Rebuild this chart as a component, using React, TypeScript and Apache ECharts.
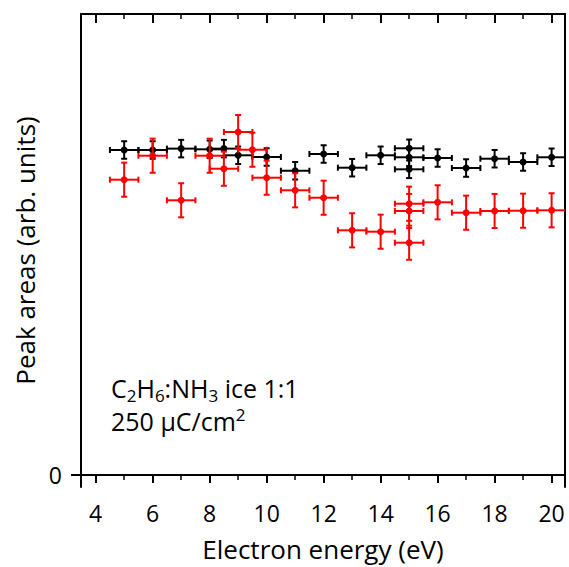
import React, { useEffect, useRef } from "react";
import * as echarts from "echarts";

const blackX = [5, 6, 7, 8, 8.5, 9, 10, 11, 12, 13, 14, 15, 15, 15, 16, 17, 18, 19, 20];
const blackY = [70.5, 70.5, 70.8, 70.65, 70.8, 69.35, 68.98, 66.0, 69.63, 66.66, 69.35, 70.87, 68.92, 66.31, 68.76, 66.59, 68.61, 67.9, 68.92];
const blackYErr = 1.9;

const redX = [5, 6, 7, 8, 8.5, 9, 9.5, 10, 11, 12, 13, 14, 15, 15, 15, 16, 17, 18, 19, 20];
const redY = [64.06, 69.26, 59.59, 69.26, 66.44, 74.4, 70.56, 64.49, 61.76, 60.15, 53.08, 52.78, 58.85, 57.27, 50.39, 59.15, 56.9, 57.27, 57.33, 57.42];
const redYErr = 3.7;

const xErr = 0.5;
const xMajorTicks = [4, 6, 8, 10, 12, 14, 16, 18, 20];
const xMinorTicks = [5, 7, 9, 11, 13, 15, 17, 19];
const yTicks = [0];

const FONT = "Open Sans";
const X_MIN = 3.485;
const X_MAX = 20.47;
const Y_MIN = -2.6;
const Y_MAX = 100;

function makeSeries(xs: number[], ys: number[], ye: number, color: string) {
  const data = xs.map((x, i) => [x, ys[i], xErr, ye]);
  return {
    type: "custom",
    clip: true,
    data,
    encode: { x: 0, y: 1 },
    renderItem: (params: any, api: any) => {
      const x = api.value(0);
      const y = api.value(1);
      const xe = api.value(2);
      const yErr = api.value(3);
      const c = api.coord([x, y]);
      const l = api.coord([x - xe, y]);
      const r = api.coord([x + xe, y]);
      const t = api.coord([x, y + yErr]);
      const b = api.coord([x, y - yErr]);
      const cap = 3;
      const st = { stroke: color, lineWidth: 2 };
      const ln = (x1: number, y1: number, x2: number, y2: number) => ({
        type: "line",
        shape: { x1, y1, x2, y2 },
        style: st,
      });
      return {
        type: "group",
        children: [
          ln(l[0], l[1], r[0], r[1]),
          ln(l[0], l[1] - cap, l[0], l[1] + cap),
          ln(r[0], r[1] - cap, r[0], r[1] + cap),
          ln(t[0], t[1], b[0], b[1]),
          ln(t[0] - cap, t[1], t[0] + cap, t[1]),
          ln(b[0] - cap, b[1], b[0] + cap, b[1]),
          { type: "circle", shape: { cx: c[0], cy: c[1], r: 3.5 }, style: { fill: color } },
        ],
      };
    },
  };
}

export default function App() {
  const ref = useRef<HTMLDivElement>(null);
  useEffect(() => {
    if (!ref.current) return;
    const chart = echarts.init(ref.current, null, { renderer: "svg" });
    const axisLine = { show: true, lineStyle: { color: "#000", width: 2 } };
    const baseX = { type: "value", min: X_MIN, max: X_MAX, splitLine: { show: false } };
    chart.setOption({
      animation: false,
      backgroundColor: "#fff",
      grid: { left: 81, right: 4, top: 14, bottom: 80 },
      xAxis: [
        {
          ...baseX,
          position: "bottom",
          axisLine,
          axisTick: { show: true, customValues: xMajorTicks, length: 8, lineStyle: { color: "#000", width: 2 } },
          axisLabel: { customValues: xMajorTicks, fontFamily: FONT, fontSize: 23, color: "#000", margin: 14 },
          name: "Electron energy (eV)",
          nameLocation: "middle",
          nameGap: 49,
          nameTextStyle: { fontFamily: FONT, fontSize: 26, color: "#000" },
        },
        {
          ...baseX,
          position: "bottom",
          axisLine: { show: false },
          axisTick: { show: true, customValues: xMinorTicks, length: 5, lineStyle: { color: "#000", width: 1.5 } },
          axisLabel: { show: false },
        },
        {
          ...baseX,
          position: "top",
          axisLine,
          axisTick: { show: true, inside: true, customValues: xMajorTicks, length: 9, lineStyle: { color: "#000", width: 2 } },
          axisLabel: { show: false },
        },
        {
          ...baseX,
          position: "top",
          axisLine: { show: false },
          axisTick: { show: true, inside: true, customValues: xMinorTicks, length: 5, lineStyle: { color: "#000", width: 1.5 } },
          axisLabel: { show: false },
        },
      ],
      yAxis: [
        {
          type: "value",
          min: Y_MIN,
          max: Y_MAX,
          position: "left",
          splitLine: { show: false },
          axisLine,
          axisTick: { show: true, customValues: yTicks, length: 10, lineStyle: { color: "#000", width: 2 } },
          axisLabel: { customValues: yTicks, fontFamily: FONT, fontSize: 23, color: "#000", margin: 19 },
          name: "Peak areas (arb. units)",
          nameLocation: "middle",
          nameGap: 38,
          nameTextStyle: { fontFamily: FONT, fontSize: 26, color: "#000" },
        },
        {
          type: "value",
          min: Y_MIN,
          max: Y_MAX,
          position: "right",
          splitLine: { show: false },
          axisLine,
          axisTick: { show: false },
          axisLabel: { show: false },
        },
      ],
      graphic: [
        {
          type: "text",
          left: 111,
          top: 375,
          style: {
            text: "{n|C}{s|2}{n|H}{s|6}{n|:NH}{s|3}{n| ice 1:1}",
            rich: {
              n: { fontFamily: FONT, fontSize: 25, lineHeight: 25, fill: "#000", verticalAlign: "bottom" },
              s: { fontFamily: FONT, fontSize: 17, lineHeight: 17, fill: "#000", verticalAlign: "bottom", padding: [0, 0, -4, 0] },
            },
          },
        },
        {
          type: "text",
          left: 111,
          top: 406,
          style: {
            text: "{n|250 μC/cm}{p|2}",
            rich: {
              n: { fontFamily: FONT, fontSize: 25, lineHeight: 27, fill: "#000", verticalAlign: "bottom" },
              p: { fontFamily: FONT, fontSize: 17, lineHeight: 20, fill: "#000", verticalAlign: "bottom", padding: [0, 0, 10, 0] },
            },
          },
        },
      ],
      series: [makeSeries(blackX, blackY, blackYErr, "#000"), makeSeries(redX, redY, redYErr, "#ff0000")],
    });
    return () => chart.dispose();
  }, []);
  return <div ref={ref} style={{ position: "absolute", left: 0, top: 0, width: 569, height: 567 }} />;
}
